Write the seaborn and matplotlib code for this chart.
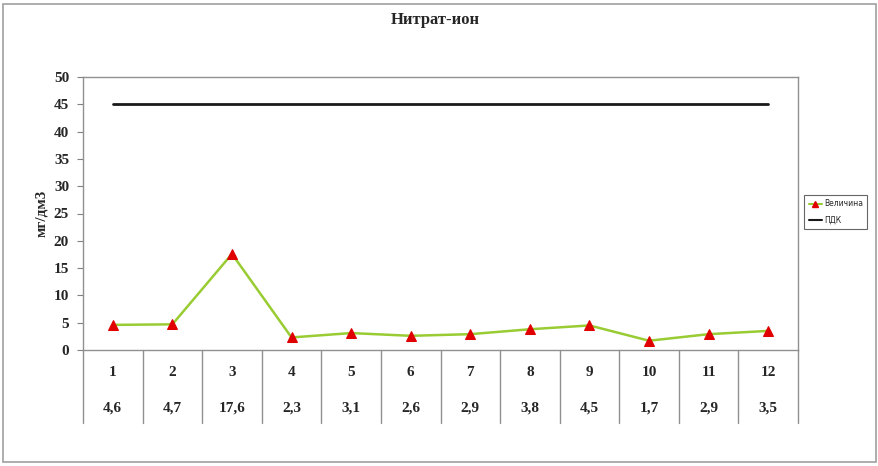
import matplotlib
matplotlib.use("Agg")
import matplotlib.pyplot as plt
import matplotlib.transforms as mtransforms
from matplotlib.lines import Line2D
import seaborn as sns
import pandas as pd

categories = ["1", "2", "3", "4", "5", "6", "7", "8", "9", "10", "11", "12"]
values = [4.6, 4.7, 17.6, 2.3, 3.1, 2.6, 2.9, 3.8, 4.5, 1.7, 2.9, 3.5]
value_labels = ["4,6", "4,7", "17,6", "2,3", "3,1", "2,6", "2,9", "3,8", "4,5", "1,7", "2,9", "3,5"]
pdk = [45] * 12
title = "Нитрат-ион"
ylabel = "мг/дм3"
series_names = ["Величина", "ПДК"]

sns.set_style("white")
plt.rcParams['font.family'] = ['Liberation Serif', 'DejaVu Serif']

fig = plt.figure(figsize=(8.79, 4.66), dpi=100)
ax = fig.add_axes([83/879, 1 - 350/466, (798-83)/879, (350-77)/466])

df = pd.DataFrame({"pos": range(len(categories)), "val": values, "pdk": pdk})
sns.lineplot(data=df, x="pos", y="pdk", ax=ax, color="#1a1a1a", linewidth=2)
sns.lineplot(data=df, x="pos", y="val", ax=ax, color="#99cc33", linewidth=1.8,
             marker="^", markersize=7, markerfacecolor="#e00000", markeredgecolor="#e00000")

ax.set_xlim(-0.5, len(categories) - 0.5)
ax.set_ylim(0, 50)
ax.set_yticks(range(0, 51, 5))
ax.set_yticklabels([str(v) for v in range(0, 51, 5)], fontsize=11, fontweight="bold")
ax.tick_params(axis="y", length=4, color="#808080", pad=6, left=True)
ax.set_xticks([])
ax.set_xlabel("")
ax.set_ylabel(ylabel, fontsize=11, fontweight="bold", labelpad=4)
for s in ax.spines.values():
    s.set_color("#909090")
    s.set_linewidth(1)

trans = mtransforms.blended_transform_factory(ax.transData, ax.transAxes)
table_bottom = -(423-350)/(350-77)
for b in [i - 0.5 for i in range(len(categories) + 1)]:
    ax.add_line(Line2D([b, b], [0, table_bottom], transform=trans, color="#909090",
                       linewidth=1, clip_on=False))
row1 = -(372-350)/(350-77)
row2 = -(408-350)/(350-77)
for i, (c, v) in enumerate(zip(categories, value_labels)):
    ax.text(i, row1, c, transform=trans, ha="center", va="center", fontsize=11, fontweight="bold")
    ax.text(i, row2, v, transform=trans, ha="center", va="center", fontsize=11, fontweight="bold")

fig.text(435/879, 1 - 20/466, title, ha="center", va="center", fontsize=12, fontweight="bold")

handles = [Line2D([], [], color="#99cc33", marker="^", markerfacecolor="#e00000",
                  markeredgecolor="#e00000", markersize=5, linewidth=1.5),
           Line2D([], [], color="#1a1a1a", linewidth=1.5)]
leg = fig.legend(handles, series_names, loc="center left",
                 bbox_to_anchor=(804/879, 1 - 212/466), frameon=True, fancybox=False,
                 prop={"family": "DejaVu Sans", "size": 5.5}, handlelength=1.8,
                 borderpad=0.6, labelspacing=1.0, handletextpad=0.2, borderaxespad=0)
leg.get_frame().set_edgecolor("#404040")
leg.get_frame().set_linewidth(0.8)

border = plt.Rectangle((3/879, 4/466), (876-3)/879, (462-4)/466, transform=fig.transFigure,
                       fill=False, edgecolor="#a0a0a0", linewidth=1.2)
fig.patches.append(border)

fig.savefig("out.png", dpi=100)
